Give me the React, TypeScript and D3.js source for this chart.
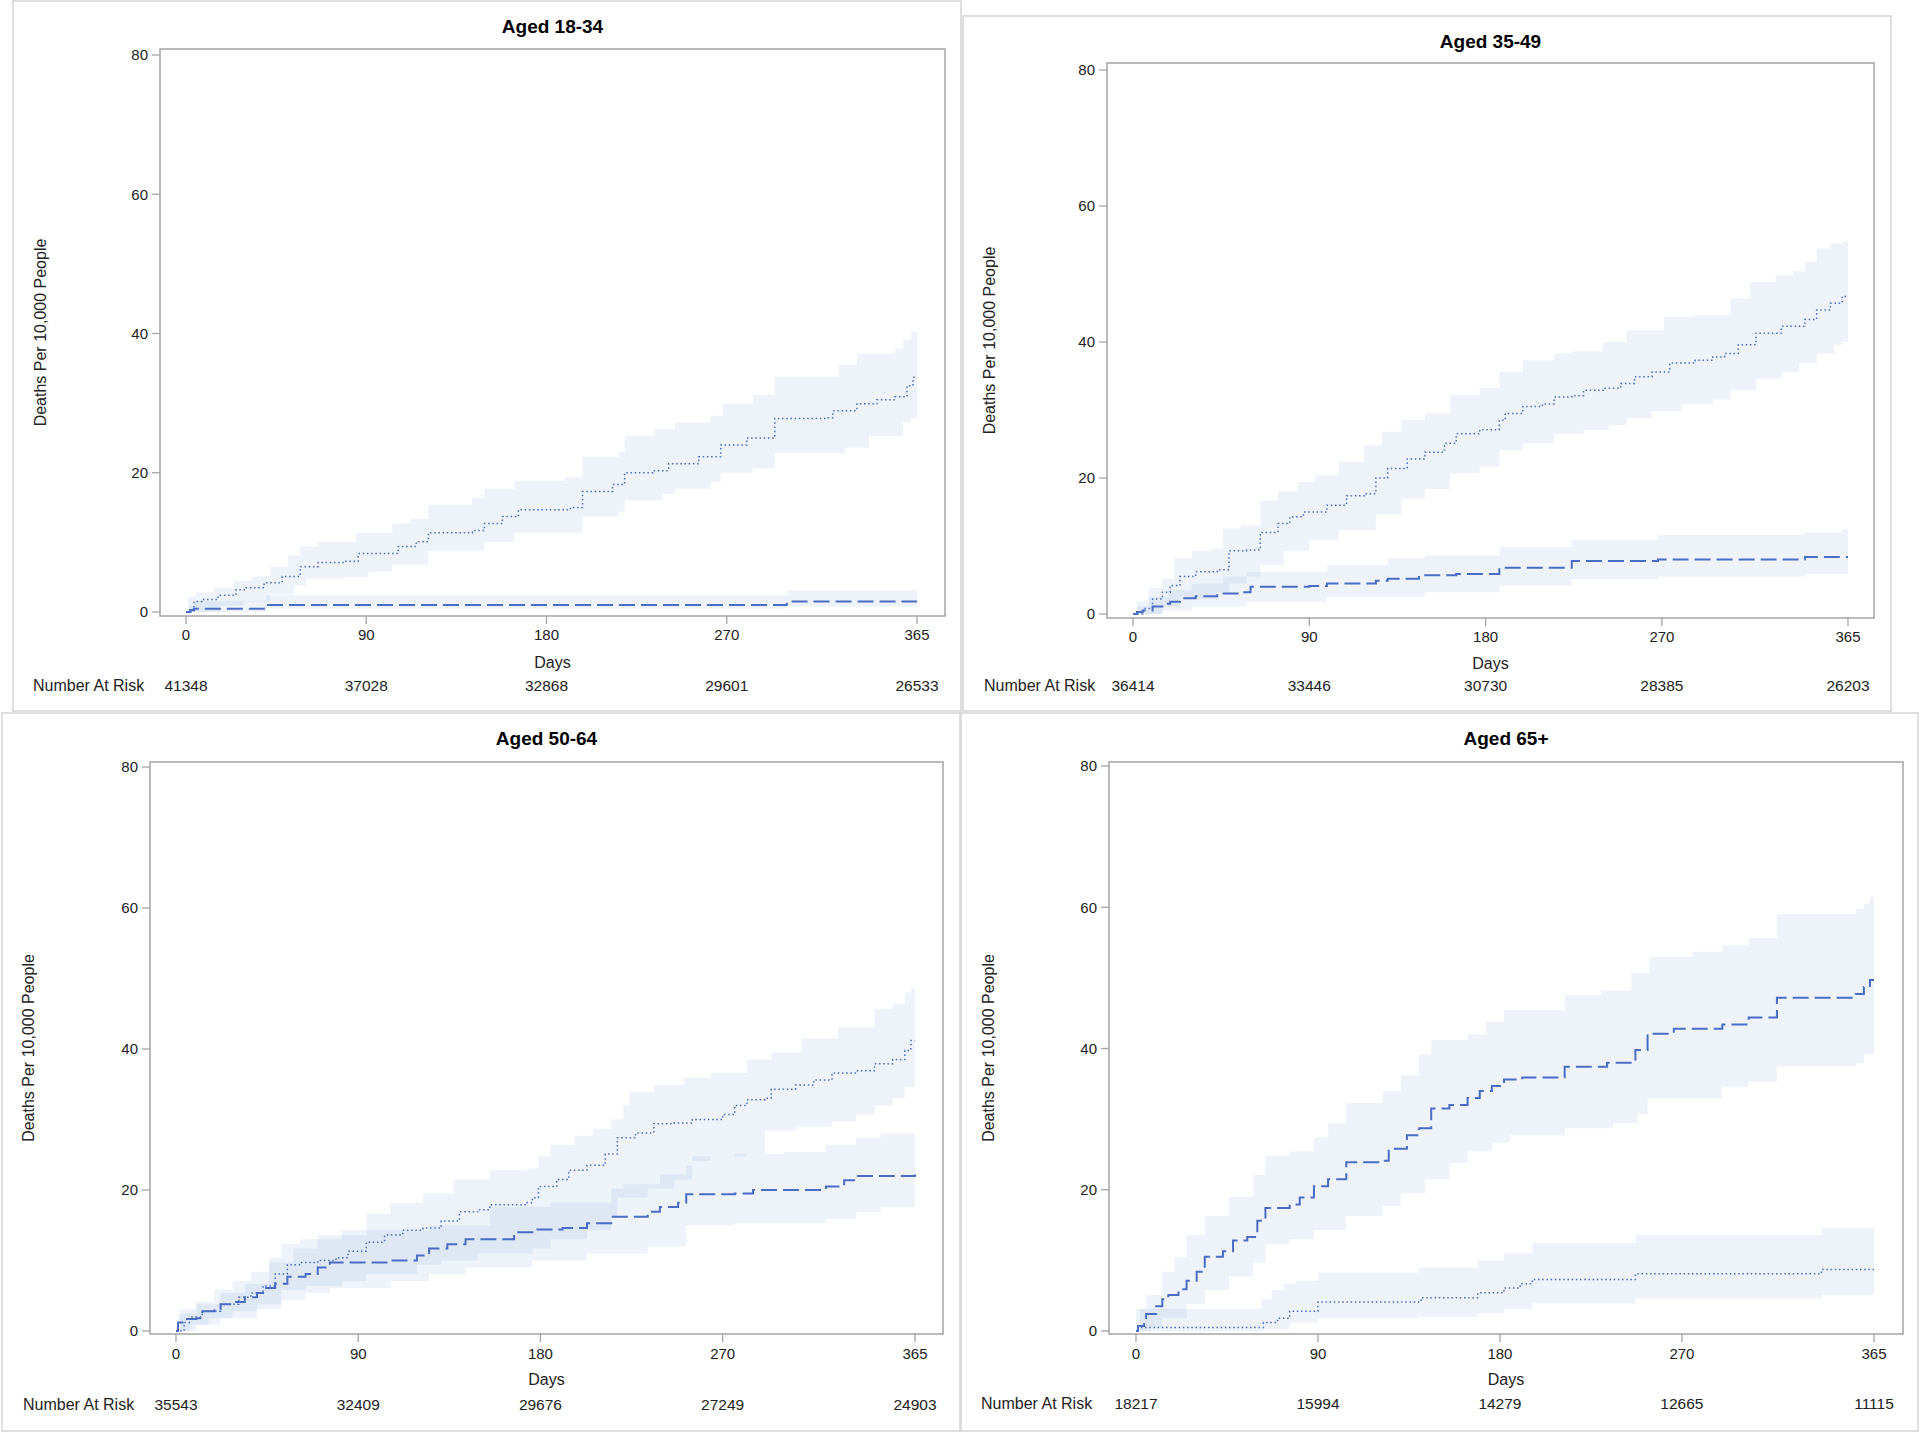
import React from "react";
import * as d3 from "d3";

type Pt = [number, number];

// ---------- DATA ----------
const xTicks = [0, 90, 180, 270, 365];
const yTicks = [0, 20, 40, 60, 80];
const panelTitles = ["Aged 18-34", "Aged 35-49", "Aged 50-64", "Aged 65+"];
const xAxisLabel = "Days";
const yAxisLabel = "Deaths Per 10,000 People";
const riskLabel = "Number At Risk";

const risk1834 = [41348, 37028, 32868, 29601, 26533];
const risk3549 = [36414, 33446, 30730, 28385, 26203];
const risk5064 = [35543, 32409, 29676, 27249, 24903];
const risk65 = [18217, 15994, 14279, 12665, 11115];

// Aged 18-34
const dot1834: Pt[] = [[0,0],[4,1.5],[8,1.8],[16,2.4],[25,3.2],[30,3.5],[39,4.2],[48,5.1],[57,6.5],[66,7.1],[79,7.3],[86,8.4],[106,9.4],[115,10.1],[121,11.4],[143,11.7],[149,12.7],[158,13.7],[166,14.7],[192,15],[198,17.3],[213,18.3],[219,20],[233,20.3],[241,21.3],[256,22.3],[267,24],[280,25],[294,27.8],[319,27.9],[323,28.9],[335,29.9],[345,30.5],[354,30.9],[360,32.5],[363,33.7],[365,33.7]];
const dotHi1834: Pt[] = [[0,0],[1,2.2],[5,2.8],[14,3.5],[24,4.5],[33,5.1],[42,6.5],[51,8.1],[57,9.4],[66,10.1],[85,11.4],[103,12.7],[112,13.4],[121,15.4],[143,16.4],[149,17.7],[164,18.8],[189,19.3],[198,22.3],[216,23],[219,25.3],[234,26.3],[244,27.2],[262,28.2],[268,29.9],[283,31.2],[294,33.8],[326,35.5],[335,37.1],[354,37.8],[358,39.1],[362,40.3],[365,40.3]];
const dotLo1834: Pt[] = [[0,0],[17,0.9],[29,1.5],[42,2.5],[54,3.8],[60,4.8],[79,5],[91,5.8],[103,6.8],[121,8.8],[149,10.1],[164,11.4],[198,13.7],[216,14.4],[219,16],[238,17],[244,17.7],[262,18.7],[267,20],[283,20.6],[294,22.8],[329,23.6],[341,25.3],[358,27.2],[362,27.8],[365,27.8]];
const dash1834: Pt[] = [[0,0],[2,0.3],[4,0.45],[40,1.0],[300,1.5],[365,1.5]];
const dashHi1834: Pt[] = [[0,0],[2,1.0],[4,1.6],[40,2.4],[300,3.1],[365,3.1]];
const dashLo1834: Pt[] = [[0,0],[40,0.5],[300,0.8],[365,0.8]];

// Aged 35-49
const dot3549: Pt[] = [[0,0],[5,0.8],[10,2.2],[15,3.2],[19,4.2],[24,5.5],[32,6.2],[43,6.5],[49,9.3],[58,9.4],[65,12],[74,13.3],[80,14.3],[87,15],[99,16],[109,17.4],[118,17.7],[124,20],[130,21.4],[140,22.8],[149,23.8],[159,25.1],[165,26.5],[177,27.1],[187,28.5],[190,29.5],[199,30.5],[209,30.9],[215,31.9],[224,32.1],[230,32.9],[240,33.2],[249,33.9],[256,34.9],[265,35.6],[274,36.9],[287,37.3],[296,37.8],[302,38.3],[309,39.6],[318,41.3],[331,42.3],[343,43.3],[349,44.7],[356,45.7],[362,46.7],[365,46.7]];
const dotHi3549: Pt[] = [[0,0],[2,1.8],[8,3.8],[15,5.2],[21,8.2],[30,9.3],[40,9.6],[46,12.6],[55,13],[65,16.7],[74,18],[84,19.4],[93,20.4],[105,22.4],[118,24.8],[127,26.8],[137,28.5],[149,29.5],[162,32.2],[177,33.2],[187,35.6],[199,37.3],[215,38.3],[224,38.6],[240,40],[252,41.7],[271,43.7],[287,44],[305,46.4],[315,48.8],[328,49.8],[337,50.4],[343,51.8],[349,53.8],[356,54.5],[362,54.8],[365,54.8]];
const dotLo3549: Pt[] = [[0,0],[15,1.1],[24,2.2],[43,3.2],[49,4.5],[58,5.5],[65,7.2],[77,9.3],[90,10.9],[105,12.3],[124,14.7],[137,17],[149,18.4],[162,20.7],[177,21.7],[187,24.1],[199,25.1],[215,26.5],[230,27.1],[243,27.8],[252,28.8],[265,29.8],[280,30.9],[296,31.5],[305,32.9],[318,34.6],[331,35.6],[340,36.9],[349,38.3],[358,39.6],[362,40],[365,40]];
const dash3549: Pt[] = [[0,0],[2,0.3],[5,0.5],[10,1.1],[15,1.5],[19,1.8],[24,2.3],[32,2.6],[43,3.0],[55,3.2],[60,4.0],[90,4.1],[99,4.5],[124,4.9],[130,5.2],[146,5.7],[165,5.9],[187,6.8],[224,7.8],[268,8.0],[343,8.4],[365,8.4]];
const dashHi3549: Pt[] = [[0,0],[2,1.1],[8,2.5],[18,3.5],[30,4.5],[46,5.5],[58,6.2],[99,7.2],[130,8.2],[149,8.6],[187,9.9],[224,10.9],[268,11.6],[343,12],[362,12.5],[365,12.5]];
const dashLo3549: Pt[] = [[0,0],[15,0.5],[30,1.1],[58,1.8],[99,2.5],[149,3.2],[187,4.2],[224,5.1],[268,5.5],[343,5.9],[365,5.9]];

// Aged 50-64
const dot5064: Pt[] = [[0,0],[4,1.2],[7,2],[13,2.8],[22,3.8],[31,4.8],[37,5.4],[43,6.4],[49,8.1],[55,9.4],[61,9.7],[70,10],[79,10.4],[85,11.3],[94,12.6],[103,13.6],[112,14.3],[122,14.6],[131,15.6],[140,16.9],[149,17.2],[155,17.9],[173,18.2],[176,18.9],[179,20.5],[188,21.5],[194,22.8],[203,23.5],[212,25.1],[218,27.4],[227,28.1],[236,29.4],[246,29.5],[255,30],[270,30.7],[276,32],[282,32.8],[291,33],[294,34.3],[306,34.9],[315,35.6],[324,36.6],[336,36.9],[345,37.9],[354,38.5],[360,39.8],[363,41.2],[365,41.2]];
const dotHi5064: Pt[] = [[0,0],[2,3.1],[10,4.1],[19,5.8],[28,7.1],[37,8.4],[46,10.4],[52,12.3],[61,13],[70,13.6],[82,14.3],[94,16.6],[106,18.2],[122,19.5],[137,21.5],[155,22.8],[173,23.1],[179,24.8],[185,26.4],[197,27.7],[206,28.7],[215,30],[221,32],[224,33.9],[236,34.9],[251,35.9],[264,36.6],[282,38.5],[294,39.5],[309,41.5],[327,43.1],[345,45.7],[354,46.4],[360,48],[363,48.7],[365,48.7]];
const dotLo5064: Pt[] = [[0,0],[7,0.9],[16,1.8],[28,2.8],[40,3.8],[52,5.8],[64,6.4],[82,7.1],[94,8.1],[119,9.4],[131,10],[149,11],[176,11.7],[185,13],[203,14.3],[215,16.2],[218,18.9],[233,20.2],[246,21.5],[255,24.1],[264,24.8],[282,25.1],[291,28.4],[306,29],[324,29.7],[336,30.7],[345,32],[354,33],[360,34.6],[365,34.6]];
const dash5064: Pt[] = [[0,0],[1,1.2],[4,1.7],[10,1.8],[13,2.8],[19,3.1],[22,3.8],[28,4.1],[34,4.8],[40,5.4],[43,6.1],[49,6.7],[55,7.7],[64,8.1],[70,9],[76,9.7],[106,10],[119,10.7],[125,11.7],[134,12.3],[143,13],[167,14],[176,14.4],[191,14.6],[203,15.3],[215,16.2],[233,16.9],[239,17.6],[248,18.2],[252,19.4],[276,19.5],[285,20],[321,20.5],[330,21.4],[336,22],[365,22.2]];
const dashHi5064: Pt[] = [[0,0],[1,2.5],[10,3.8],[22,5.4],[34,6.7],[46,9.7],[58,11.7],[70,13],[82,13.6],[94,14.3],[125,15],[155,17.6],[185,18.2],[215,20.2],[221,20.8],[239,22.2],[252,23.5],[255,24.8],[276,25.1],[300,25.4],[321,26.4],[336,27.4],[348,28],[365,28.4]];
const dashLo5064: Pt[] = [[0,0],[10,0.9],[22,1.8],[40,3.1],[52,4.4],[64,5.4],[76,6.1],[106,7.1],[125,8.1],[143,9],[176,10],[203,11],[233,12],[252,15],[276,15.3],[321,15.9],[336,16.9],[348,17.6],[365,17.9]];

// Aged 65+
const dot65: Pt[] = [[0,0],[1,0.5],[63,1.2],[70,1.8],[76,2.8],[90,4.1],[141,4.7],[169,5.4],[182,6.1],[190,6.7],[196,7.3],[247,8.1],[339,8.7],[365,8.7]];
const dotHi65: Pt[] = [[0,3.1],[62,4.5],[67,5.8],[73,6.7],[79,7.1],[90,8.3],[140,9],[169,10],[182,11],[196,12.5],[247,13.6],[339,14.6],[365,14.6]];
const dotLo65: Pt[] = [[0,0],[63,0.2],[76,1.2],[90,1.8],[140,2],[169,2.5],[182,3.1],[196,3.9],[247,4.6],[339,5.1],[365,5.1]];
const dash65: Pt[] = [[0,0],[1,0.7],[4,1.5],[5,2.4],[10,3.5],[13,4.5],[16,5.1],[21,5.9],[25,7.1],[30,8.4],[34,10.5],[43,11.3],[48,12.8],[55,13.3],[60,15.6],[64,17.4],[76,17.9],[81,18.9],[88,20.5],[95,21.5],[104,23.9],[122,24.1],[125,25.8],[134,27.7],[140,28.7],[146,31.5],[155,32],[164,33],[170,34],[176,34.7],[182,35.6],[191,35.9],[212,37.4],[233,38],[247,39.8],[253,42.1],[266,42.8],[290,43.4],[303,44.4],[317,47.2],[356,47.7],[360,48.7],[363,49.7],[365,49.7]];
const dashHi65: Pt[] = [[0,0],[2,3.1],[5,5.1],[13,8.4],[19,10.4],[25,13.6],[34,16.3],[46,19],[58,22.1],[64,24.8],[76,25.4],[88,27.4],[95,29.4],[104,32.3],[122,34],[131,36.2],[140,39.2],[146,41.2],[164,42],[173,43.8],[182,45.4],[212,47.6],[230,48.2],[245,50.7],[254,53],[275,53.7],[290,54.6],[303,55.6],[317,59],[356,59.8],[360,60.5],[363,61.5],[365,61.5]];
const dashLo65: Pt[] = [[0,0],[7,0.5],[13,1.8],[25,3.8],[34,5.8],[46,7.7],[58,9.7],[64,12.3],[76,13],[88,14.3],[104,16.3],[122,17.7],[131,19.5],[143,21.5],[155,23.8],[164,25.4],[176,26.7],[185,27.7],[212,28.7],[236,29.4],[248,30.7],[253,33],[290,34.6],[303,35.3],[317,37.5],[356,37.9],[360,39.2],[365,39.5]];

// ---------- LAYOUT ----------
type Layout = {
  bx: number; by: number; bw: number; bh: number;
  fx0: number; fy0: number; fx1: number; fy1: number;
  xr: [number, number]; yr: [number, number];
  titleY: number; ylabX: number; tickY: number; daysY: number; riskY: number; riskX: number;
};

const layouts: Layout[] = [
  { bx: 13, by: 1, bw: 948, bh: 710, fx0: 160, fy0: 49, fx1: 945, fy1: 616, xr: [186, 917], yr: [612, 55], titleY: 26, ylabX: 40, tickY: 635, daysY: 662, riskY: 685, riskX: 33 },
  { bx: 963, by: 16, bw: 928, bh: 695, fx0: 1107, fy0: 63, fx1: 1874, fy1: 618, xr: [1133, 1848], yr: [614, 70], titleY: 41.5, ylabX: 989, tickY: 637, daysY: 663, riskY: 685, riskX: 984 },
  { bx: 2, by: 713, bw: 958, bh: 718, fx0: 150, fy0: 762, fx1: 943, fy1: 1334, xr: [176, 915], yr: [1331, 767], titleY: 738.5, ylabX: 27.5, tickY: 1354, daysY: 1379.5, riskY: 1404, riskX: 23 },
  { bx: 961, by: 713, bw: 957, bh: 718, fx0: 1109, fy0: 762, fx1: 1903, fy1: 1334, xr: [1136, 1874], yr: [1331, 766], titleY: 738.5, ylabX: 987.5, tickY: 1354, daysY: 1379.5, riskY: 1403, riskX: 981 },
];

type PanelData = {
  dot: Pt[]; dotHi: Pt[]; dotLo: Pt[];
  dash: Pt[]; dashHi: Pt[]; dashLo: Pt[];
  risk: number[];
};

const panels: PanelData[] = [
  { dot: dot1834, dotHi: dotHi1834, dotLo: dotLo1834, dash: dash1834, dashHi: dashHi1834, dashLo: dashLo1834, risk: risk1834 },
  { dot: dot3549, dotHi: dotHi3549, dotLo: dotLo3549, dash: dash3549, dashHi: dashHi3549, dashLo: dashLo3549, risk: risk3549 },
  { dot: dot5064, dotHi: dotHi5064, dotLo: dotLo5064, dash: dash5064, dashHi: dashHi5064, dashLo: dashLo5064, risk: risk5064 },
  { dot: dot65, dotHi: dotHi65, dotLo: dotLo65, dash: dash65, dashHi: dashHi65, dashLo: dashLo65, risk: risk65 },
];

const FONT = "'Liberation Sans', Arial, Helvetica, sans-serif";
const LINE = "#4a6cc4";
const BAND = "#5b86d1";
const FRAME = "#a4a4a4";
const BORDER = "#d6d6d6";

function stepAt(pts: Pt[], d: number): number {
  let v = pts[0][1];
  for (const p of pts) {
    if (p[0] <= d) v = p[1];
    else break;
  }
  return v;
}

function bandData(lo: Pt[], hi: Pt[]): [number, number, number][] {
  const days = Array.from(new Set([...lo.map((p) => p[0]), ...hi.map((p) => p[0])])).sort((a, b) => a - b);
  return days.map((d) => [d, stepAt(lo, d), stepAt(hi, d)]);
}

function Panel({ lay, data, title }: { lay: Layout; data: PanelData; title: string }) {
  const x = d3.scaleLinear().domain([0, 365]).range(lay.xr);
  const y = d3.scaleLinear().domain([0, 80]).range(lay.yr);
  const line = d3
    .line<Pt>()
    .x((d) => x(d[0]))
    .y((d) => y(d[1]))
    .curve(d3.curveStepAfter);
  const area = d3
    .area<[number, number, number]>()
    .x((d) => x(d[0]))
    .y0((d) => y(d[1]))
    .y1((d) => y(d[2]))
    .curve(d3.curveStepAfter);
  const cx = (lay.fx0 + lay.fx1) / 2;
  const cy = (lay.fy0 + lay.fy1) / 2;
  return (
    <g>
      <rect x={lay.bx} y={lay.by} width={lay.bw} height={lay.bh} fill="white" stroke={BORDER} strokeWidth={1.6} />
      <text x={cx} y={lay.titleY + 6.5} textAnchor="middle" fontFamily={FONT} fontWeight="bold" fontSize={19} fill="#000">
        {title}
      </text>
      <path d={area(bandData(data.dotLo, data.dotHi)) || ""} fill={BAND} fillOpacity={0.1} />
      <path d={area(bandData(data.dashLo, data.dashHi)) || ""} fill={BAND} fillOpacity={0.1} />
      <path d={line(data.dot) || ""} fill="none" stroke={LINE} strokeWidth={1.5} strokeDasharray="1.5,2.7" />
      <path d={line(data.dash) || ""} fill="none" stroke={LINE} strokeWidth={2} strokeDasharray="16,6" />
      <rect x={lay.fx0} y={lay.fy0} width={lay.fx1 - lay.fx0} height={lay.fy1 - lay.fy0} fill="none" stroke={FRAME} strokeWidth={1.5} />
      {yTicks.map((t) => (
        <g key={"y" + t}>
          <line x1={lay.fx0 - 8} x2={lay.fx0} y1={y(t)} y2={y(t)} stroke={FRAME} strokeWidth={1.3} />
          <text x={lay.fx0 - 12} y={y(t) + 5.3} textAnchor="end" fontFamily={FONT} fontSize={15} fill="#222">
            {t}
          </text>
        </g>
      ))}
      {xTicks.map((t, i) => (
        <g key={"x" + t}>
          <line x1={x(t)} x2={x(t)} y1={lay.fy1} y2={lay.fy1 + 8} stroke={FRAME} strokeWidth={1.3} />
          <text x={x(t)} y={lay.tickY + 5.3} textAnchor="middle" fontFamily={FONT} fontSize={15} fill="#222">
            {t}
          </text>
          <text x={x(t)} y={lay.riskY + 5.5} textAnchor="middle" fontFamily={FONT} fontSize={15.5} fill="#222">
            {data.risk[i]}
          </text>
        </g>
      ))}
      <text x={cx} y={lay.daysY + 5.7} textAnchor="middle" fontFamily={FONT} fontSize={16} fill="#222">
        {xAxisLabel}
      </text>
      <text x={lay.riskX} y={lay.riskY + 5.7} textAnchor="start" fontFamily={FONT} fontSize={16} fill="#222">
        {riskLabel}
      </text>
      <text
        transform={`translate(${lay.ylabX + 6},${cy}) rotate(-90)`}
        textAnchor="middle"
        fontFamily={FONT}
        fontSize={16}
        fill="#222"
      >
        {yAxisLabel}
      </text>
    </g>
  );
}

export default function App() {
  return (
    <svg
      width={1920}
      height={1432}
      viewBox="0 0 1920 1432"
      style={{ position: "absolute", left: 0, top: 0, display: "block", background: "white" }}
    >
      <rect x={0} y={0} width={1920} height={1432} fill="white" />
      {layouts.map((lay, i) => (
        <Panel key={i} lay={lay} data={panels[i]} title={panelTitles[i]} />
      ))}
    </svg>
  );
}
